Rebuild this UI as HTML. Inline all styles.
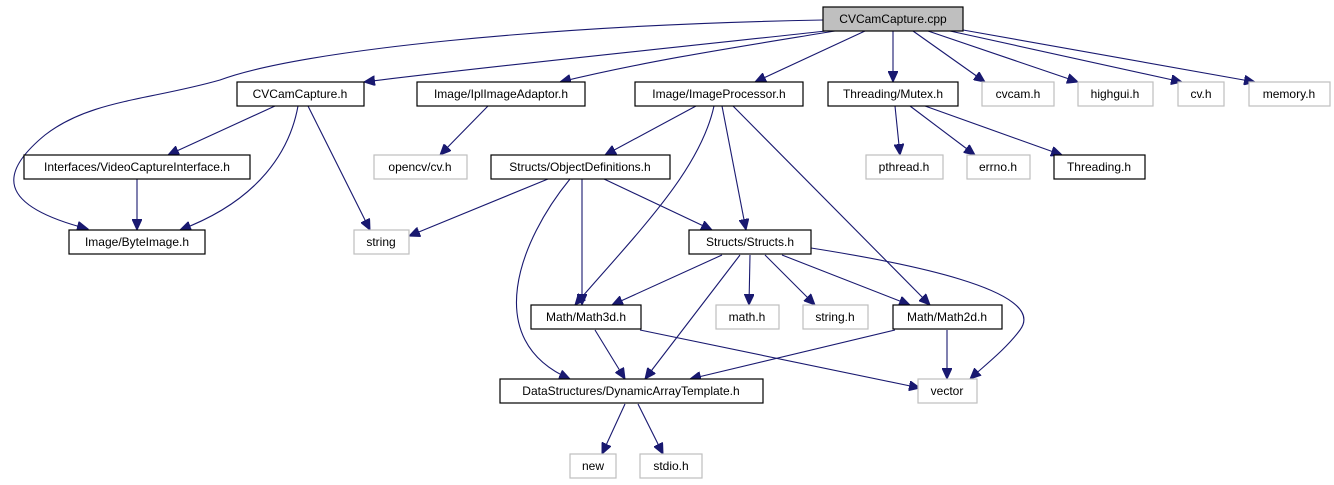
<!DOCTYPE html>
<html><head><meta charset="utf-8"><style>
html,body{margin:0;padding:0;background:#fff;}
svg{display:block;}
text{font-family:"Liberation Sans",Arial,sans-serif;font-size:12px;fill:#000;text-anchor:middle;}
.b{fill:#fff;stroke:#000;stroke-width:1.2}
.g{fill:#fff;stroke:#bfbfbf;stroke-width:1.2}
path{fill:none;stroke:#191970;stroke-width:1.1}
</style></head><body>
<svg width="1334" height="485" viewBox="0 0 1334 485" xmlns="http://www.w3.org/2000/svg">
<defs><marker id="a" markerUnits="userSpaceOnUse" markerWidth="12" markerHeight="10" refX="11" refY="5" orient="auto"><polygon points="0,0 11,5 0,10" fill="#191970" stroke="#191970"/></marker></defs>
<g marker-end="url(#a)">
<path d="M823,20 C550,25 300,50 220,80 C150,100 90,100 45,135 C0,172 -5,205 88,229"/>
<path d="M826,31 C700,45 500,65 364,82"/>
<path d="M835,31 C750,45 650,60 560,82"/>
<path d="M865,31 L755,82"/>
<path d="M893,31 L893,82"/>
<path d="M913,31 L985,82"/>
<path d="M928,31 L1078,82"/>
<path d="M950,31 L1182,82"/>
<path d="M963,30 L1255,82"/>
<path d="M275,106 L168,155"/>
<path d="M298,106 C290,150 260,200 180,230"/>
<path d="M308,106 L370,230"/>
<path d="M488,106 L440,155"/>
<path d="M137,179 L137,230"/>
<path d="M696,106 L605,155"/>
<path d="M714,106 C700,170 640,230 575,305"/>
<path d="M722,106 L746,230"/>
<path d="M733,106 L930,305"/>
<path d="M548,179 L409,236"/>
<path d="M570,179 C520,240 480,340 570,379"/>
<path d="M582,179 L582,305"/>
<path d="M604,179 L712,230"/>
<path d="M895,106 L900,155"/>
<path d="M910,106 L975,155"/>
<path d="M925,106 L1062,155"/>
<path d="M722,255 L612,305"/>
<path d="M740,255 L645,379"/>
<path d="M750,255 L749,305"/>
<path d="M765,255 L815,305"/>
<path d="M782,255 L910,305"/>
<path d="M811,248 C900,262 1050,290 1020,330 C1005,350 985,365 970,379"/>
<path d="M595,330 L625,379"/>
<path d="M640,330 L920,388"/>
<path d="M895,330 L690,379"/>
<path d="M947,330 L947,379"/>
<path d="M625,404 L602,454"/>
<path d="M638,404 L663,454"/>
</g>
<rect x="823" y="7" width="140" height="24" fill="#bfbfbf" stroke="#000" stroke-width="1.2"/><text x="893" y="23">CVCamCapture.cpp</text>
<rect class="b" x="237" y="82" width="127" height="24"/><text x="300" y="98">CVCamCapture.h</text>
<rect class="b" x="417" y="82" width="168" height="24"/><text x="501" y="98">Image/IplImageAdaptor.h</text>
<rect class="b" x="635" y="82" width="168" height="24"/><text x="719" y="98">Image/ImageProcessor.h</text>
<rect class="b" x="828" y="82" width="130" height="24"/><text x="893" y="98">Threading/Mutex.h</text>
<rect class="g" x="982" y="82" width="72" height="24"/><text x="1018" y="98">cvcam.h</text>
<rect class="g" x="1078" y="82" width="75" height="24"/><text x="1115" y="98">highgui.h</text>
<rect class="g" x="1178" y="82" width="46" height="24"/><text x="1201" y="98">cv.h</text>
<rect class="g" x="1249" y="82" width="81" height="24"/><text x="1289" y="98">memory.h</text>
<rect class="b" x="24" y="155" width="226" height="24"/><text x="137" y="171">Interfaces/VideoCaptureInterface.h</text>
<rect class="g" x="374" y="155" width="93" height="24"/><text x="420" y="171">opencv/cv.h</text>
<rect class="b" x="491" y="155" width="179" height="24"/><text x="580" y="171">Structs/ObjectDefinitions.h</text>
<rect class="g" x="866" y="155" width="77" height="24"/><text x="904" y="171">pthread.h</text>
<rect class="g" x="967" y="155" width="63" height="24"/><text x="998" y="171">errno.h</text>
<rect class="b" x="1054" y="155" width="91" height="24"/><text x="1099" y="171">Threading.h</text>
<rect class="b" x="69" y="230" width="136" height="24"/><text x="137" y="246">Image/ByteImage.h</text>
<rect class="g" x="354" y="230" width="55" height="24"/><text x="381" y="246">string</text>
<rect class="b" x="689" y="230" width="122" height="24"/><text x="750" y="246">Structs/Structs.h</text>
<rect class="b" x="531" y="305" width="110" height="24"/><text x="586" y="321">Math/Math3d.h</text>
<rect class="g" x="716" y="305" width="63" height="24"/><text x="747" y="321">math.h</text>
<rect class="g" x="803" y="305" width="65" height="24"/><text x="835" y="321">string.h</text>
<rect class="b" x="893" y="305" width="109" height="24"/><text x="947" y="321">Math/Math2d.h</text>
<rect class="b" x="500" y="379" width="263" height="24"/><text x="631" y="395">DataStructures/DynamicArrayTemplate.h</text>
<rect class="g" x="918" y="379" width="59" height="24"/><text x="947" y="395">vector</text>
<rect class="g" x="570" y="454" width="46" height="24"/><text x="593" y="470">new</text>
<rect class="g" x="640" y="454" width="62" height="24"/><text x="671" y="470">stdio.h</text>
</svg>
</body></html>
